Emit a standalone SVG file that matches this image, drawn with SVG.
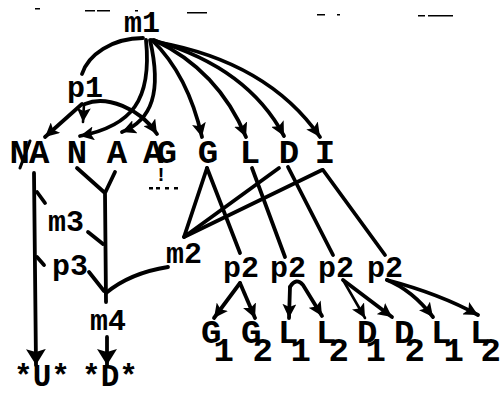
<svg xmlns="http://www.w3.org/2000/svg" width="500" height="394" viewBox="0 0 500 394">
  <style>
    .t { font-family: "Liberation Mono", "DejaVu Sans Mono", monospace; font-weight: bold; font-size: 34px; fill: #000; text-anchor: middle; }
    .s { font-size: 30px; }
    .st { font-size: 31px; }
    .e { fill: none; stroke: #000; stroke-width: 3.8; stroke-linecap: round; stroke-linejoin: round; }
    .thin { stroke-width: 2.6; }
    .a { marker-end: url(#ah); }
    .b { marker-end: url(#big); }
    .dash { fill: #000; }
  </style>
  <defs>
    <marker id="ah" markerUnits="userSpaceOnUse" markerWidth="15" markerHeight="14" refX="14" refY="7" orient="auto">
      <path d="M0,0 L14,7 L0,14 L3,7 z" fill="#000"/>
    </marker>
    <marker id="big" markerUnits="userSpaceOnUse" markerWidth="17" markerHeight="20" refX="16" refY="10" orient="auto">
      <path d="M0,0 L16,10 L0,20 L3,10 z" fill="#000"/>
    </marker>
  </defs>
  <rect width="500" height="394" fill="#fff"/>

  <!-- stray typewriter marks along the top edge -->
  <g id="marks">
    <rect class="dash" x="35" y="8" width="5" height="1.5"/>
    <rect class="dash" x="85" y="10" width="10" height="1.5"/>
    <rect class="dash" x="97" y="10" width="13" height="1.5"/>
    <rect class="dash" x="135" y="10" width="3" height="1.5"/>
    <rect class="dash" x="187" y="12" width="20" height="1.5"/>
    <rect class="dash" x="317" y="14" width="8" height="1.5"/>
    <rect class="dash" x="337" y="14" width="3" height="1.5"/>
    <rect class="dash" x="418" y="15" width="7" height="1.5"/>
    <rect class="dash" x="428" y="15" width="25" height="1.5"/>
  </g>

  <g id="connectors">
    <!-- m1 fan -->
    <path class="e" d="M143,38 C112,38 88,55 82,74"/>
    <path class="e a" d="M146,40 C152,100 132,126 80,136"/>
    <path class="e a" d="M150,40 C162,92 152,120 122,132"/>
    <path class="e a" d="M152,40 Q188,75 202,137"/>
    <path class="e a" d="M154,40 Q218,70 246,137"/>
    <path class="e a" d="M156,41 Q248,68 284,136"/>
    <path class="e a" d="M157,42 Q268,62 320,137"/>
    <!-- p1 fan -->
    <path class="e a" d="M82,104 L45,137"/>
    <path class="e a thin" d="M84,104 L83,122"/>
    <path class="e a" d="M85,104 C106,95 140,108 157,134"/>
    <!-- left column -->
    <path class="e b" d="M34,173 L36,365"/>
    <path class="e" d="M37,192 L45,203"/>
    <path class="e" d="M37,257 L44,265"/>
    <path class="e" d="M77,168 L105,193 M115,172 L105,193 L106,302"/>
    <path class="e" d="M88,232 L103,244"/>
    <path class="e" d="M89,272 L104,291"/>
    <path class="e" d="M106,293 Q130,273 168,267"/>
    <path class="e b" d="M107,337 L107,365"/>
    <!-- G L D I to m2 and p2 -->
    <path class="e" d="M207,168 L184,237 L279,168"/>
    <path class="e" d="M184,237 L322,170"/>
    <path class="e" d="M207,168 L240,253"/>
    <path class="e" d="M252,168 L285,257"/>
    <path class="e" d="M288,167 L333,255"/>
    <path class="e" d="M323,170 L385,255"/>
    <!-- p2 fans -->
    <path class="e a" d="M240,283 L214,318"/>
    <path class="e a" d="M240,283 L255,318"/>
    <path class="e a" d="M290,287 L289,318"/>
    <path class="e a" d="M290,287 Q296,277 303,285 L322,316"/>
    <path class="e a thin" d="M343,280 L365,318"/>
    <path class="e a" d="M343,280 L392,317"/>
    <path class="e a" d="M387,280 Q412,290 433,317"/>
    <path class="e a" d="M387,280 Q440,294 478,315"/>
  </g>

  <g id="m1"><text class="t s" x="142" y="32">m1</text></g>
  <g id="p1"><text class="t s" x="85" y="97">p1</text></g>

  <g id="NA">
    <text class="t" x="29" y="163" letter-spacing="-1">NA</text>
    <path class="e" style="stroke-width:3" d="M30,141 L20,168"/>
  </g>
  <g id="N"><text class="t" x="77" y="163">N</text></g>
  <g id="A"><text class="t" x="117" y="163">A</text></g>
  <g id="AG">
    <text class="t" style="text-anchor:start" x="143" y="163" letter-spacing="-7">AG</text>
    <text class="t" style="font-size:20px" x="161" y="181">!</text>
    <rect class="dash" x="149" y="187" width="4" height="2.5"/>
    <rect class="dash" x="156" y="187" width="4" height="2.5"/>
    <rect class="dash" x="165" y="187" width="4" height="2.5"/>
    <rect class="dash" x="174" y="187" width="4" height="2.5"/>
  </g>
  <g id="G"><text class="t" x="208" y="163">G</text></g>
  <g id="L"><text class="t" x="250" y="163">L</text></g>
  <g id="D"><text class="t" x="289" y="163">D</text></g>
  <g id="I"><text class="t" x="325" y="163">I</text></g>

  <g id="m3"><text class="t s" x="66" y="231">m3</text></g>
  <g id="p3"><text class="t s" x="70" y="275">p3</text></g>
  <g id="m2"><text class="t s" x="184" y="263">m2</text></g>
  <g id="m4"><text class="t s" x="108" y="330">m4</text></g>
  <g id="U"><text class="t st" x="42" y="386">*U*</text></g>
  <g id="Dstar"><text class="t st" x="110" y="386">*D*</text></g>

  <g id="p2a"><text class="t s" x="241" y="277">p2</text></g>
  <g id="p2b"><text class="t s" x="288" y="277">p2</text></g>
  <g id="p2c"><text class="t s" x="336" y="277">p2</text></g>
  <g id="p2d"><text class="t s" x="385" y="277">p2</text></g>

  <g id="G1"><text class="t" style="text-anchor:start" x="201" y="343">G<tspan dx="-8" dy="18">1</tspan></text></g>
  <g id="G2"><text class="t" style="text-anchor:start" x="241" y="343">G<tspan dx="-9" dy="18">2</tspan></text></g>
  <g id="L1a"><text class="t" style="text-anchor:start" x="278" y="343">L<tspan dx="-8" dy="18">1</tspan></text></g>
  <g id="L2a"><text class="t" style="text-anchor:start" x="316" y="343">L<tspan dx="-8" dy="18">2</tspan></text></g>
  <g id="D1"><text class="t" style="text-anchor:start" x="357" y="343">D<tspan dx="-12" dy="18">1</tspan></text></g>
  <g id="D2"><text class="t" style="text-anchor:start" x="394" y="343">D<tspan dx="-10" dy="18">2</tspan></text></g>
  <g id="L1b"><text class="t" style="text-anchor:start" x="431" y="343">L<tspan dx="-8" dy="18">1</tspan></text></g>
  <g id="L2b"><text class="t" style="text-anchor:start" x="470" y="343">L<tspan dx="-10" dy="18">2</tspan></text></g>
</svg>
